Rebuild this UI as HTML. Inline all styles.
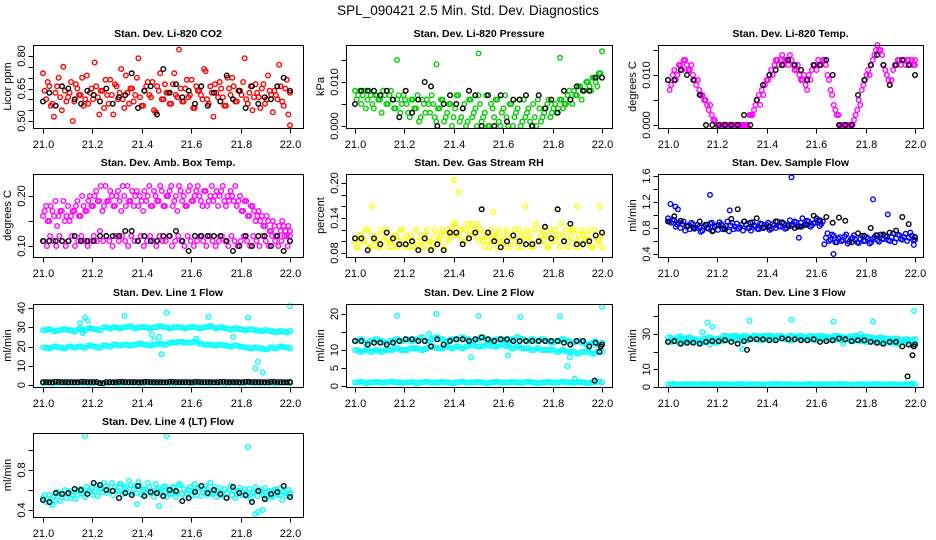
<!DOCTYPE html>
<html><head><meta charset="utf-8">
<style>
html,body{margin:0;padding:0;background:#fff;}
svg{display:block;font-family:"Liberation Sans",sans-serif;}
</style></head>
<body>
<svg id="chart" width="936" height="540" viewBox="0 0 936 540" xmlns="http://www.w3.org/2000/svg">
<rect width="936" height="540" fill="#fff"/>
<text x="468" y="15" text-anchor="middle" font-size="13.5">SPL_090421  2.5 Min. Std. Dev. Diagnostics</text>
</svg>
<script>
// ---------- data (hand-read estimates) ----------
const xTicks = [21.0, 21.2, 21.4, 21.6, 21.8, 22.0];
const xTickLabels = ["21.0", "21.2", "21.4", "21.6", "21.8", "22.0"];

// Panel 1 CO2
const co2Red1 = [0.72,0.60,0.66,0.58,0.63,0.70,0.55,0.64,0.61,0.68,0.59,0.65,0.62,0.57,0.71,0.63,0.60,0.66,0.53,0.64,0.69,0.58,0.62,0.67,0.60,0.74,0.56,0.63,0.65,0.59,0.70,0.61,0.57,0.66,0.62,0.68,0.54,0.64,0.60,0.67,0.63,0.58,0.72,0.61,0.65,0.59,0.69,0.62,0.56,0.66,0.64,0.60,0.73,0.58,0.63,0.67,0.61,0.65,0.57,0.70,0.62,0.66,0.59,0.64,0.68,0.60,0.63,0.55,0.67,0.61,0.65,0.58,0.71,0.62,0.64,0.60,0.66,0.57,0.69,0.63];
const co2Red2 = [0.64,0.68,0.57,0.52,0.66,0.61,0.75,0.59,0.63,0.50,0.67,0.62,0.70,0.60,0.58,0.65,0.77,0.61,0.64,0.56,0.62,0.69,0.53,0.66,0.63,0.60,0.71,0.58,0.65,0.62,0.79,0.57,0.64,0.68,0.61,0.55,0.66,0.72,0.60,0.63,0.58,0.67,0.62,0.83,0.59,0.65,0.61,0.69,0.56,0.64,0.62,0.74,0.60,0.66,0.52,0.63,0.68,0.61,0.57,0.65,0.70,0.59,0.64,0.62,0.79,0.58,0.66,0.61,0.63,0.56,0.67,0.60,0.64,0.54,0.62,0.76,0.59,0.65,0.53,0.48];
const co2Black = [0.59,0.63,0.57,0.66,0.65,0.60,0.58,0.64,0.62,0.59,0.65,0.58,0.61,0.62,0.72,0.56,0.64,0.66,0.53,0.74,0.63,0.67,0.61,0.64,0.58,0.66,0.57,0.63,0.59,0.71,0.60,0.64,0.56,0.66,0.58,0.61,0.60,0.66,0.70,0.64];

// Panel 2 Pressure
const presGreen1 = [0.008,0.007,0.005,0.008,0.006,0.007,0.004,0.007,0.006,0.008,0.005,0.007,0.006,0.004,0.007,0.005,0.006,0.003,0.006,0.004,0.007,0.002,0.005,0.006,0.003,0.005,0.001,0.004,0.006,0.002,0.005,0.000,0.004,0.007,0.002,0.005,0.001,0.006,0.003,0.000,0.005,0.002,0.007,0.000,0.004,0.006,0.001,0.003,0.007,0.000,0.005,0.002,0.004,0.000,0.006,0.003,0.001,0.005,0.000,0.004,0.002,0.004,0.006,0.003,0.005,0.004,0.006,0.005,0.007,0.006,0.008,0.007,0.009,0.008,0.010,0.009,0.011,0.010,0.012,0.011];
const presGreen2 = [0.006,0.008,0.007,0.004,0.008,0.005,0.007,0.006,0.003,0.007,0.005,0.008,0.004,0.006,0.003,0.007,0.005,0.002,0.006,0.004,0.001,0.006,0.003,0.005,0.007,0.002,0.004,0.006,0.001,0.003,0.005,0.002,0.007,0.001,0.004,0.000,0.006,0.002,0.004,0.007,0.001,0.003,0.000,0.005,0.002,0.006,0.000,0.004,0.002,0.005,0.000,0.003,0.006,0.001,0.002,0.004,0.000,0.002,0.006,0.001,0.003,0.005,0.002,0.004,0.003,0.006,0.004,0.005,0.008,0.005,0.007,0.009,0.006,0.008,0.010,0.008,0.011,0.009,0.012,0.017];
const presOutX = [21.17,21.33,21.50,21.83];
const presOutY = [0.0150,0.0140,0.0165,0.0155];
const presBlack = [0.005,0.008,0.008,0.008,0.007,0.008,0.006,0.002,0.008,0.003,0.006,0.010,0.009,0.000,0.005,0.007,0.005,0.004,0.008,0.007,0.000,0.007,0.000,0.007,0.001,0.006,0.006,0.007,0.000,0.007,0.004,0.006,0.003,0.008,0.006,0.009,0.008,0.008,0.011,0.011];

// Panel 3 Li-820 Temp
const tempMag1 = [0.009,0.008,0.011,0.010,0.012,0.013,0.012,0.011,0.010,0.008,0.007,0.006,0.005,0.003,0.002,0.001,0.000,0.000,0.000,0.000,0.000,0.000,0.000,0.000,0.000,0.000,0.002,0.002,0.004,0.006,0.007,0.008,0.009,0.011,0.012,0.013,0.013,0.012,0.013,0.014,0.012,0.011,0.010,0.009,0.008,0.010,0.011,0.012,0.013,0.012,0.013,0.010,0.007,0.004,0.002,0.000,0.000,0.000,0.000,0.000,0.002,0.005,0.007,0.009,0.011,0.012,0.014,0.016,0.015,0.012,0.010,0.008,0.011,0.012,0.013,0.013,0.012,0.013,0.013,0.012];
const tempMag2 = [0.007,0.010,0.009,0.012,0.011,0.013,0.011,0.012,0.009,0.009,0.006,0.005,0.004,0.004,0.001,0.000,0.000,0.000,0.000,0.000,0.000,0.000,0.000,0.000,0.000,0.000,0.002,0.003,0.005,0.004,0.006,0.009,0.010,0.010,0.013,0.012,0.014,0.013,0.012,0.013,0.011,0.012,0.009,0.010,0.007,0.009,0.012,0.011,0.012,0.013,0.012,0.009,0.006,0.003,0.002,0.000,0.000,0.000,0.000,0.001,0.003,0.004,0.008,0.010,0.010,0.013,0.015,0.015,0.014,0.011,0.009,0.009,0.012,0.013,0.012,0.013,0.013,0.012,0.012,0.013];
const tempBlack = [0.009,0.009,0.011,0.010,0.009,0.006,0.000,0.000,0.000,0.000,0.000,0.000,0.002,0.000,0.005,0.008,0.010,0.011,0.012,0.013,0.012,0.011,0.009,0.012,0.012,0.013,0.010,0.000,0.000,0.000,0.006,0.009,0.012,0.014,0.012,0.008,0.012,0.013,0.012,0.010];

// Panel 4 Amb Box Temp
const ambUpper1 = [0.16,0.18,0.15,0.17,0.19,0.16,0.17,0.15,0.18,0.16,0.17,0.19,0.16,0.18,0.17,0.20,0.18,0.21,0.19,0.17,0.22,0.19,0.20,0.18,0.21,0.17,0.20,0.22,0.19,0.18,0.21,0.20,0.17,0.19,0.22,0.18,0.20,0.19,0.21,0.18,0.20,0.22,0.19,0.17,0.21,0.20,0.18,0.22,0.19,0.21,0.20,0.18,0.21,0.19,0.22,0.20,0.18,0.21,0.19,0.20,0.21,0.19,0.18,0.20,0.17,0.19,0.16,0.18,0.15,0.17,0.16,0.14,0.15,0.13,0.14,0.12,0.13,0.14,0.12,0.13];
const ambUpper2 = [0.17,0.15,0.18,0.16,0.14,0.17,0.19,0.16,0.15,0.17,0.18,0.16,0.20,0.17,0.19,0.18,0.20,0.19,0.22,0.18,0.19,0.21,0.18,0.20,0.19,0.22,0.18,0.19,0.21,0.20,0.18,0.19,0.21,0.20,0.18,0.21,0.19,0.22,0.18,0.20,0.21,0.18,0.20,0.22,0.19,0.18,0.21,0.19,0.20,0.22,0.19,0.21,0.18,0.20,0.19,0.21,0.20,0.22,0.18,0.19,0.20,0.22,0.19,0.17,0.19,0.16,0.18,0.17,0.16,0.15,0.14,0.16,0.13,0.15,0.12,0.14,0.15,0.13,0.14,0.12];
const ambLower = [0.11,0.10,0.12,0.11,0.10,0.12,0.11,0.10,0.11,0.12,0.10,0.11,0.12,0.11,0.10,0.11,0.12,0.11,0.13,0.11,0.12,0.11,0.10,0.12,0.11,0.12,0.11,0.10,0.12,0.11,0.11,0.12,0.10,0.11,0.12,0.11,0.10,0.12,0.11,0.11,0.12,0.10,0.11,0.12,0.11,0.10,0.12,0.11,0.10,0.11,0.12,0.11,0.10,0.12,0.11,0.10,0.11,0.12,0.11,0.10,0.12,0.11,0.10,0.11,0.12,0.11,0.10,0.12,0.11,0.10,0.12,0.11,0.10,0.12,0.11,0.10,0.11,0.12,0.10,0.11];
const ambBlack = [0.11,0.11,0.11,0.11,0.11,0.12,0.11,0.11,0.11,0.12,0.12,0.12,0.12,0.13,0.13,0.11,0.12,0.11,0.11,0.12,0.12,0.13,0.11,0.09,0.12,0.12,0.12,0.12,0.12,0.11,0.09,0.10,0.12,0.10,0.12,0.12,0.10,0.12,0.09,0.11];

// Panel 5 Gas Stream RH
const rhYellow1 = [0.10,0.09,0.11,0.10,0.12,0.09,0.10,0.11,0.09,0.10,0.12,0.10,0.09,0.11,0.10,0.12,0.09,0.10,0.11,0.09,0.10,0.11,0.09,0.12,0.10,0.09,0.11,0.10,0.12,0.11,0.10,0.12,0.13,0.11,0.12,0.10,0.13,0.12,0.11,0.13,0.12,0.10,0.11,0.09,0.10,0.11,0.12,0.10,0.09,0.11,0.10,0.12,0.09,0.11,0.10,0.12,0.11,0.09,0.13,0.10,0.12,0.11,0.09,0.10,0.12,0.11,0.13,0.10,0.09,0.11,0.12,0.10,0.09,0.11,0.10,0.12,0.09,0.11,0.10,0.09];
const rhYellow2 = [0.09,0.11,0.10,0.12,0.09,0.11,0.10,0.09,0.12,0.11,0.09,0.10,0.11,0.09,0.12,0.10,0.11,0.09,0.10,0.12,0.09,0.10,0.11,0.10,0.09,0.12,0.10,0.11,0.09,0.12,0.11,0.13,0.11,0.12,0.10,0.12,0.11,0.13,0.12,0.10,0.11,0.09,0.10,0.12,0.11,0.09,0.10,0.11,0.12,0.09,0.11,0.10,0.12,0.09,0.11,0.10,0.09,0.12,0.10,0.11,0.10,0.09,0.12,0.11,0.10,0.09,0.11,0.12,0.10,0.12,0.09,0.11,0.12,0.10,0.11,0.09,0.12,0.10,0.11,0.09];
const rhOutX = [21.07,21.40,21.42,21.56,21.69,21.82,21.90,21.99];
const rhOutY = [0.16,0.205,0.185,0.15,0.16,0.155,0.16,0.16];
const rhBlack = [0.105,0.105,0.085,0.105,0.095,0.115,0.105,0.095,0.095,0.100,0.085,0.105,0.085,0.095,0.085,0.115,0.115,0.095,0.105,0.115,0.155,0.115,0.100,0.090,0.100,0.110,0.100,0.095,0.095,0.100,0.125,0.105,0.155,0.100,0.130,0.095,0.095,0.100,0.110,0.115];

// Panel 6 Sample Flow
const sfBlue1 = [0.95,0.88,0.92,0.85,0.80,0.90,0.83,0.78,0.86,0.80,0.82,0.76,0.85,0.79,0.88,0.82,0.77,0.86,0.80,0.90,0.84,0.78,0.87,0.81,0.76,0.85,0.80,0.89,0.83,0.78,0.86,0.81,0.88,0.79,0.84,0.90,0.82,0.87,0.80,0.92,0.85,0.89,0.83,0.95,0.86,0.90,0.84,0.88,0.92,0.86,0.55,0.72,0.62,0.68,0.58,0.66,0.61,0.70,0.59,0.65,0.62,0.57,0.68,0.60,0.64,0.58,0.66,0.61,0.70,0.63,0.67,0.60,0.72,0.64,0.69,0.62,0.71,0.65,0.68,0.62];
const sfBlue2 = [0.90,0.93,0.82,0.88,0.86,0.76,0.84,0.88,0.79,0.85,0.74,0.83,0.80,0.87,0.76,0.84,0.89,0.78,0.83,0.75,0.88,0.82,0.79,0.85,0.90,0.80,0.76,0.84,0.79,0.87,0.80,0.85,0.77,0.86,0.80,0.83,0.88,0.79,0.85,0.83,0.90,0.82,0.88,0.84,0.91,0.82,0.87,0.95,0.83,0.90,0.65,0.60,0.70,0.58,0.64,0.60,0.67,0.56,0.63,0.69,0.58,0.64,0.60,0.66,0.56,0.63,0.69,0.59,0.64,0.68,0.61,0.66,0.58,0.70,0.63,0.66,0.60,0.73,0.61,0.66];
const sfOutX = [21.01,21.03,21.04,21.17,21.25,21.50,21.53,21.67,21.83,21.89,21.995];
const sfOutY = [1.17,1.13,1.09,1.31,1.07,1.58,0.65,0.40,1.24,1.01,0.54];
const sfBlack = [0.90,0.98,0.91,0.82,0.80,0.90,0.85,0.75,0.84,0.78,0.94,1.09,0.90,0.88,0.95,0.80,0.82,0.90,0.89,0.83,0.80,0.82,0.85,0.99,0.92,0.97,0.88,0.96,0.91,0.58,0.72,0.68,0.80,0.69,0.70,0.73,0.76,0.97,0.86,0.66];

// Panel 7 Line 1 Flow
const l1Top = [28.5,29,28,28.5,29,28.5,28,29,28.5,29.5,29,28.5,30,29.5,30,29.5,30,30.5,29.5,30,30,29.5,30,30.5,30,29.5,30,30,29.5,30,30,29.5,30,30.5,29.5,30,29.5,29,29.5,29,28.5,29,28.5,28,28.5,28,27.5,28,27.5,28];
const l1Mid = [19.5,19,20,19.5,19,20,19.5,20,19.5,20.5,20,19.5,20.5,20,21,20.5,21,20.5,21,21.5,21,20.5,21,21.5,21,22,22,22.5,22,22,22.5,21.5,21,21,20.5,21,20.5,20,20.5,20,19.5,19,19.5,19,18.5,19.5,19,20,19.5,19];
const l1Low = [1,1.2,0.8,1,1.1,0.9,1,1.2,1,0.9,1,1.1,0.8,1,1.2,0.9,1,1.1,1,0.8,1,1.2,0.9,1,1.1,1,0.8,1,1.2,0.9,1,1.1,1,0.9,1.2,1,0.8,1,1.1,0.9,1,1.2,1,0.9,1.1,1,0.8,1,1.2,1];
const l1Black = [1.5,1.4,1.6,1.5,1.5,1.4,1.6,1.5,1.5,1.0,1.5,1.4,1.6,1.5,1.5,1.4,1.6,1.5,1.5,1.4,1.6,1.5,1.5,1.4,1.6,1.5,1.5,1.4,1.6,1.5,1.5,1.4,1.6,1.5,1.5,1.4,1.6,1.5,1.4,1.5];
const l1OutX = [21.15,21.16,21.17,21.18,21.33,21.44,21.45,21.47,21.48,21.50,21.62,21.67,21.77,21.83,21.86,21.87,21.89,22.0];
const l1OutY = [32,27,35,33.5,36,26,23,25,16,37.5,24,35.5,25,35,8.5,12,6.5,41];

// Panel 8 Line 2 Flow
const l2Top = [12.5,13,12,12.5,13,12.5,12,12.5,13,12.5,13,12.5,13,13.5,12.5,13,13.5,13,12.5,13,13,13.5,13,12.5,13,13.5,13,12.5,13,13,12.5,13,13.5,13,12.5,13,12.5,13,12.5,12,12.5,13,12.5,12,12.5,12,11.5,12,11.5,12];
const l2Mid = [10,9.5,10,9.5,10,9.5,10,10,10.5,10,10,10.5,10.5,10,10.5,11,10.5,10.5,11,10.5,11,10.5,11,11.5,11,11,11.5,11,11,11.5,11,10.5,11,10.5,10.5,10,10.5,10,10,10,9.5,10,9.5,9.5,9,9.5,9.5,9,9.5,9.5];
const l2Low = [1,1.2,0.8,1,1.1,0.9,1,1.2,1,0.9,1,1.1,0.8,1,1.2,0.9,1,1.1,1,0.8,1,1.2,0.9,1,1.1,1,0.8,1,1.2,0.9,1,1.1,1,0.9,1.2,1,0.8,1,1.1,0.9,1,1.2,1,0.9,1.1,1,0.8,1,1.2,1];
const l2Black = [12.5,12.5,11.5,12,12,11.5,12,12.5,13,13,12.5,12.5,11,13,11.5,12.5,13,13,12.5,13,13.5,13,12.5,13,13,12.5,12.5,12.5,12.5,12.5,12.5,12.5,12.5,12,11.5,12.5,12.5,11,12,11.5];
const l2BlackExX = [21.97,21.99,21.995];
const l2BlackExY = [1.5,9.5,11];
const l2OutX = [21.17,21.30,21.33,21.47,21.50,21.62,21.67,21.83,21.86,21.87,21.89,21.97,22.0];
const l2OutY = [19.5,14.5,20,8,19.5,8.5,19.2,19.3,5.5,8,2,12.5,22];

// Panel 9 Line 3 Flow
const l3BandA = [28,27,28.5,27.5,28,27,26,27.5,28,27,27.5,29,28.5,29,28.5,29,28,29,28.5,29,29,28.5,29,28,29,28.5,29,28,29,28.5,29,28.5,28,29,28.5,28,28.5,29,28,28.5,28,27.5,28,27.5,27,27.5,26.5,27,26.5,27];
const l3BandB = [25.5,26,25,26,25.5,26,25,25.5,26,25,26,26.5,27,26.5,27,26.5,27,27.5,26.5,27,27.5,27,27.5,27,26.5,27.5,27,27.5,27,26.5,27.5,27,26.5,27,26.5,27,26,26.5,26,25.5,26,25.5,25,25.5,25,24.5,25,24.5,24,24.5];
const l3Low = [1.5,1.7,1.3,1.5,1.6,1.4,1.5,1.7,1.5,1.4,1.5,1.6,1.3,1.5,1.7,1.4,1.5,1.6,1.5,1.3,1.5,1.7,1.4,1.5,1.6,1.5,1.3,1.5,1.7,1.4,1.5,1.6,1.5,1.4,1.7,1.5,1.3,1.5,1.6,1.4,1.5,1.7,1.5,1.4,1.6,1.5,1.3,1.5,1.7,1.5];
const l3Black = [25.5,26,24.5,25,25,24.5,25.5,26,26,26.5,25.5,24.5,26,27,27,27,26.5,26.5,27.5,27,27,26.5,26.5,27,25.5,26,26.5,27.5,27,26,26.5,26.5,25.5,25,24.5,25.5,25.5,23,24,24];
const l3BlackExX = [21.32,21.97,21.99,21.995];
const l3BlackExY = [21,6,18,23];
const l3OutX = [21.14,21.16,21.17,21.18,21.30,21.33,21.50,21.67,21.71,21.78,21.83,21.996];
const l3OutY = [31,36.5,24,34,21.5,37.5,38,37,24.5,30,37,43];

// Panel 10 Line 4 (LT) Flow
const l4A = [0.52,0.48,0.55,0.45,0.50,0.57,0.53,0.60,0.56,0.52,0.58,0.55,0.61,0.57,0.63,0.59,0.55,0.65,0.62,0.58,0.64,0.60,0.67,0.63,0.59,0.66,0.62,0.58,0.65,0.61,0.57,0.64,0.60,0.56,0.63,0.59,0.66,0.62,0.58,0.64,0.60,0.56,0.62,0.58,0.65,0.61,0.57,0.63,0.59,0.55,0.62,0.58,0.64,0.60,0.56,0.63,0.59,0.55,0.61,0.57,0.64,0.60,0.56,0.62,0.58,0.54,0.61,0.57,0.63,0.59,0.55,0.62,0.58,0.54,0.60,0.56,0.62,0.58,0.54,0.57];
const l4B = [0.55,0.51,0.47,0.53,0.58,0.49,0.56,0.52,0.59,0.55,0.51,0.60,0.56,0.53,0.59,0.62,0.58,0.54,0.61,0.67,0.57,0.63,0.55,0.60,0.66,0.56,0.63,0.69,0.57,0.64,0.68,0.55,0.61,0.67,0.57,0.53,0.60,0.56,0.63,0.53,0.57,0.63,0.53,0.66,0.56,0.52,0.60,0.54,0.66,0.62,0.54,0.61,0.55,0.67,0.57,0.53,0.62,0.56,0.52,0.60,0.55,0.52,0.59,0.55,0.61,0.57,0.51,0.58,0.54,0.60,0.56,0.51,0.59,0.53,0.61,0.55,0.50,0.57,0.60,0.55];
const l4Black = [0.50,0.48,0.57,0.56,0.57,0.61,0.60,0.56,0.67,0.65,0.60,0.59,0.52,0.57,0.55,0.64,0.54,0.58,0.57,0.54,0.60,0.59,0.49,0.52,0.58,0.64,0.57,0.60,0.56,0.52,0.63,0.57,0.55,0.48,0.59,0.51,0.56,0.58,0.64,0.53];
const l4OutX = [21.17,21.50,21.83,21.86,21.87,21.89,21.47,21.38];
const l4OutY = [1.14,1.14,1.03,0.36,0.38,0.40,0.44,0.46];

// ---------- layout ----------
const NS = "http://www.w3.org/2000/svg";
const svg = document.getElementById("chart");
const cols = [{l:33,r:303,x0:43,x1:290},{l:346,r:612,x0:355,x1:602},{l:658,r:923,x0:668,x1:915}];
const rows = [{t:45,b:128},{t:174,b:257},{t:304,b:387},{t:433,b:517}];
const RED="#ff0000", GREEN="#00cc00", MAG="#ff00ff", YEL="#ffff00", BLUE="#0000ff", CYAN="#00ffff", BLK="#000000";

function mk(tag, attrs, parent){
  const e = document.createElementNS(NS, tag);
  for (const k in attrs) e.setAttribute(k, attrs[k]);
  (parent||svg).appendChild(e);
  return e;
}
// even time grid; 'shift' staggers a second series half a step
function evenX(n, shift){ const a=[]; for(let i=0;i<n;i++) a.push(Math.min(22, 21 + (i+shift)/(n-1))); return a; }

const panels = [
 {key:"co2", title:"Stan. Dev. Li-820 CO2", ylab:"Licor ppm", c:0, r:0, v0:0.5, p0:121, v1:0.8, p1:56,
  yt:[0.50,0.55,0.60,0.65,0.70,0.75,0.80], yl:[[0.50,"0.50"],[0.65,"0.65"],[0.80,"0.80"]],
  series:[[null,co2Red1,RED],[null,co2Red2,RED,0.5],[null,co2Black,BLK]]},
 {key:"pressure", title:"Stan. Dev. Li-820 Pressure", ylab:"kPa", c:1, r:0, v0:0, p0:126, v1:0.01, p1:82,
  yt:[0,0.005,0.01,0.015], yl:[[0,"0.000"],[0.01,"0.010"]],
  series:[[null,presGreen1,GREEN],[null,presGreen2,GREEN,0.5],[presOutX,presOutY,GREEN],[null,presBlack,BLK]]},
 {key:"li820-temp", title:"Stan. Dev. Li-820 Temp.", ylab:"degrees C", c:2, r:0, v0:0, p0:125, v1:0.01, p1:75,
  yt:[0,0.005,0.01,0.015], yl:[[0,"0.000"],[0.01,"0.010"]],
  series:[[null,tempMag1,MAG],[null,tempMag2,MAG,0.5],[null,tempBlack,BLK]]},
 {key:"amb-box-temp", title:"Stan. Dev. Amb. Box Temp.", ylab:"degrees C", c:0, r:1, v0:0.1, p0:246, v1:0.2, p1:196,
  yt:[0.10,0.15,0.20], yl:[[0.10,"0.10"],[0.20,"0.20"]],
  series:[[null,ambUpper1,MAG],[null,ambUpper2,MAG,0.5],[null,ambLower,MAG,0.25],[null,ambBlack,BLK]]},
 {key:"gas-stream-rh", title:"Stan. Dev. Gas Stream RH", ylab:"percent", c:1, r:1, v0:0.08, p0:253, v1:0.20, p1:183,
  yt:[0.08,0.10,0.12,0.14,0.16,0.18,0.20], yl:[[0.08,"0.08"],[0.14,"0.14"],[0.20,"0.20"]],
  series:[[null,rhYellow1,YEL],[null,rhYellow2,YEL,0.5],[rhOutX,rhOutY,YEL],[null,rhBlack,BLK]]},
 {key:"sample-flow", title:"Stan. Dev. Sample Flow", ylab:"ml/min", c:2, r:1, v0:0.4, p0:254, v1:1.6, p1:176,
  yt:[0.4,0.6,0.8,1.0,1.2,1.4,1.6], yl:[[0.4,"0.4"],[0.8,"0.8"],[1.2,"1.2"],[1.6,"1.6"]],
  series:[[null,sfBlue1,BLUE],[null,sfBlue2,BLUE,0.5],[sfOutX,sfOutY,BLUE],[null,sfBlack,BLK]]},
 {key:"line1-flow", title:"Stan. Dev. Line 1 Flow", ylab:"ml/min", c:0, r:2, v0:0, p0:385, v1:40, p1:308,
  yt:[0,10,20,30,40], yl:[[0,"0"],[10,"10"],[20,"20"],[30,"30"],[40,"40"]],
  series:[[null,l1Top,CYAN],[null,l1Top,CYAN,0.5],[null,l1Mid,CYAN],[null,l1Mid,CYAN,0.5],[null,l1Low,CYAN],[l1OutX,l1OutY,CYAN],[null,l1Black,BLK],[null,l1Black,BLK,0.5]]},
 {key:"line2-flow", title:"Stan. Dev. Line 2 Flow", ylab:"ml/min", c:1, r:2, v0:0, p0:386, v1:20, p1:314,
  yt:[0,5,10,15,20], yl:[[0,"0"],[5,"5"],[10,"10"],[20,"20"]],
  series:[[null,l2Top,CYAN],[null,l2Top,CYAN,0.5],[null,l2Mid,CYAN],[null,l2Mid,CYAN,0.5],[null,l2Low,CYAN],[null,l2Low,CYAN,0.5],[l2OutX,l2OutY,CYAN],[null,l2Black,BLK],[l2BlackExX,l2BlackExY,BLK]]},
 {key:"line3-flow", title:"Stan. Dev. Line 3 Flow", ylab:"ml/min", c:2, r:2, v0:0, p0:387, v1:30, p1:334,
  yt:[0,10,20,30,40], yl:[[0,"0"],[10,"10"],[30,"30"]],
  series:[[null,l3BandA,CYAN],[null,l3BandA,CYAN,0.5],[null,l3BandB,CYAN,0.25],[null,l3BandB,CYAN,0.75],[null,l3Low,CYAN],[null,l3Low,CYAN,0.5],[l3OutX,l3OutY,CYAN],[null,l3Black,BLK],[l3BlackExX,l3BlackExY,BLK]]},
 {key:"line4-flow", title:"Stan. Dev. Line 4 (LT) Flow", ylab:"ml/min", c:0, r:3, v0:0.4, p0:510, v1:0.8, p1:470,
  yt:[0.4,0.6,0.8,1.0], yl:[[0.4,"0.4"],[0.8,"0.8"]],
  series:[[null,l4A,CYAN],[null,l4B,CYAN,0.5],[l4OutX,l4OutY,CYAN],[null,l4Black,BLK]]}
];

panels.forEach(P => {
  const C = cols[P.c], R = rows[P.r];
  const g = mk("g", {});
  
  
  const xs = v => C.x0 + (v - 21) * (C.x1 - C.x0);
  const ys = v => P.p0 + (v - P.v0) * (P.p1 - P.p0) / (P.v1 - P.v0);

  const t = mk("text", {x:(C.l+C.r)/2, y:R.t-8, "text-anchor":"middle", "font-size":"10.5", "font-weight":"bold"}, g);
  t.textContent = P.title;
  
  

  const yl = mk("text", {x:0, y:0, "text-anchor":"middle", "font-size":"11",
     transform:`translate(${C.l-22},${(R.t+R.b)/2}) rotate(-90)`}, g);
  yl.textContent = P.ylab;
  
  

  const pts = mk("g", {}, g);
  
  
  P.series.forEach(s => {
    const vals = s[1];
    const xv = s[0] || evenX(vals.length, s[3] || 0);
    vals.forEach((v, i) => {
      const cy = ys(v);
      if (cy < R.t - 1 || cy > R.b + 1) return;
      const c = mk("circle", {cx:xs(xv[i]).toFixed(1), cy:cy.toFixed(1), r:2.3, fill:"none", stroke:s[2], "stroke-width":1.4}, pts);
      
      
    });
  });

  const fr = mk("rect", {x:C.l+0.5, y:R.t+0.5, width:C.r-C.l, height:R.b-R.t, fill:"none", stroke:"#000", "stroke-width":1}, g);
  
  

  const xa = mk("g", {}, g);
  
  
  xTicks.forEach((v, i) => {
    const x = Math.round(xs(v)) + 0.5;
    mk("line", {x1:x, x2:x, y1:R.b+0.5, y2:R.b+5.5, stroke:"#000"}, xa);
    const tl = mk("text", {x:x, y:R.b+20, "text-anchor":"middle", "font-size":"11"}, xa);
    tl.textContent = xTickLabels[i];
    
    
  });
  const ya = mk("g", {}, g);
  
  
  P.yt.forEach(v => {
    const y = Math.round(ys(v)) + 0.5;
    if (y < R.t - 1 || y > R.b + 2) return;
    mk("line", {x1:C.l-4.5, x2:C.l+0.5, y1:y, y2:y, stroke:"#000"}, ya);
  });
  P.yl.forEach(l => {
    const y = ys(l[0]);
    const tl = mk("text", {x:0, y:0, "text-anchor":"middle", "font-size":"11",
       transform:`translate(${C.l-8},${y}) rotate(-90)`}, ya);
    tl.textContent = l[1];
    
    
  });
});
</script>
</body></html>
